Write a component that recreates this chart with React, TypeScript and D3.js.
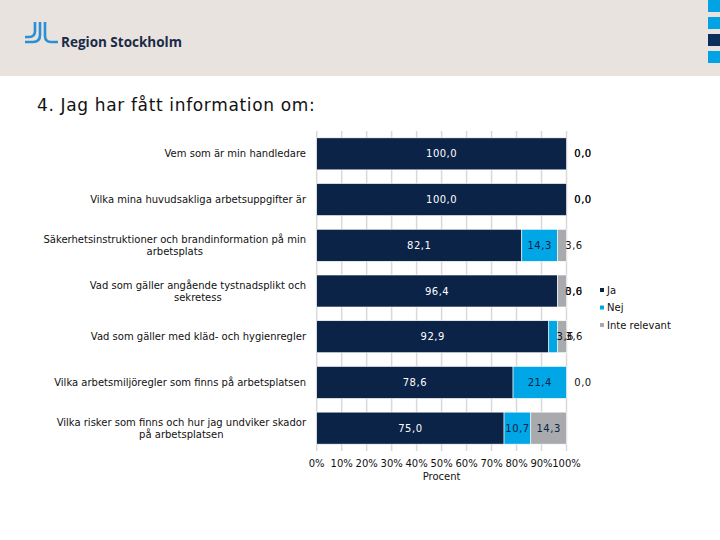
import React, { useEffect, useRef } from "react";
import * as d3 from "d3";

const categories = [
  ["Vem som är min handledare"],
  ["Vilka mina huvudsakliga arbetsuppgifter är"],
  ["Säkerhetsinstruktioner och brandinformation på min", "arbetsplats"],
  ["Vad som gäller angående tystnadsplikt och", "sekretess"],
  ["Vad som gäller med kläd- och hygienregler"],
  ["Vilka arbetsmiljöregler som finns på arbetsplatsen"],
  ["Vilka risker som finns och hur jag undviker skador", "på arbetsplatsen"],
];
const seriesNames = ["Ja", "Nej", "Inte relevant"];
const ja = [100.0, 100.0, 82.1, 96.4, 92.9, 78.6, 75.0];
const nej = [0.0, 0.0, 14.3, 0.0, 3.6, 21.4, 10.7];
const inte = [0.0, 0.0, 3.6, 3.6, 3.6, 0.0, 14.3];
const tickValues = [0, 10, 20, 30, 40, 50, 60, 70, 80, 90, 100];

const colors = ["#0B2347", "#00A6E6", "#A8AAAD"];
const labelColors = ["#FFFFFF", "#0B2347", "#0B2347"];
const FONT = "'DejaVu Sans', Verdana, sans-serif";

export default function App() {
  const ref = useRef<SVGSVGElement>(null);
  useEffect(() => {
    const svg = d3.select(ref.current);
    svg.selectAll("*").remove();

    // header
    svg.append("rect").attr("x", 0).attr("y", 0).attr("width", 720).attr("height", 76).attr("fill", "#E8E3DE");
    const sq = [[0, "#00A3E3"], [17, "#00A3E3"], [34, "#0B2F5A"], [51, "#00A3E3"]];
    sq.forEach(([y, c]) => {
      svg.append("rect").attr("x", 708).attr("y", y as number).attr("width", 12).attr("height", 12).attr("fill", c as string);
    });
    const logo = svg.append("g").attr("fill", "none").attr("stroke", "#2A8FD4").attr("stroke-width", 2.6).attr("stroke-linecap", "butt");
    logo.append("path").attr("d", "M35,22 V31 Q35,37 29,37 H25");
    logo.append("path").attr("d", "M40,22 V35 Q40,42 33,42 H25");
    logo.append("path").attr("d", "M45,22 V36 Q45,42 51,42 H58");
    svg.append("text").attr("x", 61).attr("y", 47).attr("font-family", "'Open Sans', 'Liberation Sans', sans-serif")
      .attr("font-weight", 700).attr("font-size", 13.5).attr("fill", "#1B2A47").text("Region Stockholm");

    // title
    svg.append("text").attr("x", 37).attr("y", 111).attr("font-family", FONT).attr("font-size", 17)
      .attr("letter-spacing", 0.65).attr("fill", "#111").text("4. Jag har fått information om:");

    const x = d3.scaleLinear().domain([0, 100]).range([316.7, 566.5]);
    const y = d3.scaleBand<number>().domain(d3.range(categories.length)).range([131, 451]).paddingInner(0.3).paddingOuter(0.15);

    // gridlines
    svg.append("g").selectAll("line").data(tickValues).join("line")
      .attr("x1", d => x(d)).attr("x2", d => x(d)).attr("y1", 131).attr("y2", 451)
      .attr("stroke", "#D9D9D9").attr("stroke-width", 1.5);

    const series = [ja, nej, inte];
    const stackData = categories.map((_, i) => ({ i, s0: ja[i], s1: nej[i], s2: inte[i] }));
    const stack = d3.stack<any>().keys(["s0", "s1", "s2"])(stackData);

    stack.forEach((layer, k) => {
      svg.append("g").selectAll("rect").data(layer).join("rect")
        .attr("x", d => x(d[0])).attr("width", d => Math.max(0, x(d[1]) - x(d[0])))
        .attr("y", d => y(d.data.i)!).attr("height", y.bandwidth())
        .attr("fill", colors[k]).attr("stroke", "#fff").attr("stroke-width", 0.6);
    });

    // labels
    stack.forEach((layer, k) => {
      svg.append("g").selectAll("text").data(layer).join("text")
        .attr("x", d => {
          const w = x(d[1]) - x(d[0]);
          return w < 20 ? x(d[0]) + 16.5 : (x(d[0]) + x(d[1])) / 2;
        })
        .attr("y", d => y(d.data.i)! + y.bandwidth() / 2)
        .attr("dy", "0.35em").attr("text-anchor", "middle")
        .attr("font-family", FONT).attr("font-size", 10).attr("letter-spacing", 0.5)
        .attr("fill", d => (x(d[1]) - x(d[0]) < 20 ? "#111" : labelColors[k]))
        .text(d => d3.format(".1f")(series[k][d.data.i]).replace(".", ","));
    });

    // category labels
    categories.forEach((lines, i) => {
      const cy = y(i)! + y.bandwidth() / 2;
      const g = svg.append("g");
      if (lines.length === 1) {
        g.append("text").attr("x", 306).attr("y", cy).attr("dy", "0.35em").attr("text-anchor", "end")
          .attr("font-family", FONT).attr("font-size", 10).attr("fill", "#111").text(lines[0]);
      } else {
        const t1 = g.append("text").attr("x", 306).attr("y", cy - 6).attr("dy", "0.35em").attr("text-anchor", "end")
          .attr("font-family", FONT).attr("font-size", 10).attr("fill", "#111").text(lines[0]);
        const w = (t1.node() as SVGTextElement).getComputedTextLength();
        g.append("text").attr("x", 306 - w / 2).attr("y", cy + 6).attr("dy", "0.35em").attr("text-anchor", "middle")
          .attr("font-family", FONT).attr("font-size", 10).attr("fill", "#111").text(lines[1]);
      }
    });

    // x-axis tick labels
    svg.append("g").selectAll("text").data(tickValues).join("text")
      .attr("x", d => x(d)).attr("y", 463).attr("dy", "0.35em").attr("text-anchor", "middle")
      .attr("font-family", FONT).attr("font-size", 10).attr("fill", "#111").text(d => `${d}%`);
    svg.append("text").attr("x", (x(0) + x(100)) / 2).attr("y", 476).attr("dy", "0.35em").attr("text-anchor", "middle")
      .attr("font-family", FONT).attr("font-size", 10).attr("fill", "#111").text("Procent");

    // legend
    seriesNames.forEach((n, k) => {
      const ly = 290 + k * 17.5;
      svg.append("rect").attr("x", 600).attr("y", ly - 2).attr("width", 4).attr("height", 4).attr("fill", colors[k]);
      svg.append("text").attr("x", 607).attr("y", ly).attr("dy", "0.35em").attr("font-family", FONT)
        .attr("font-size", 10).attr("fill", "#111").text(n);
    });
  }, []);
  return (
    <svg ref={ref} width={720} height={540} style={{ position: "absolute", left: 0, top: 0, background: "#fff" }} />
  );
}
